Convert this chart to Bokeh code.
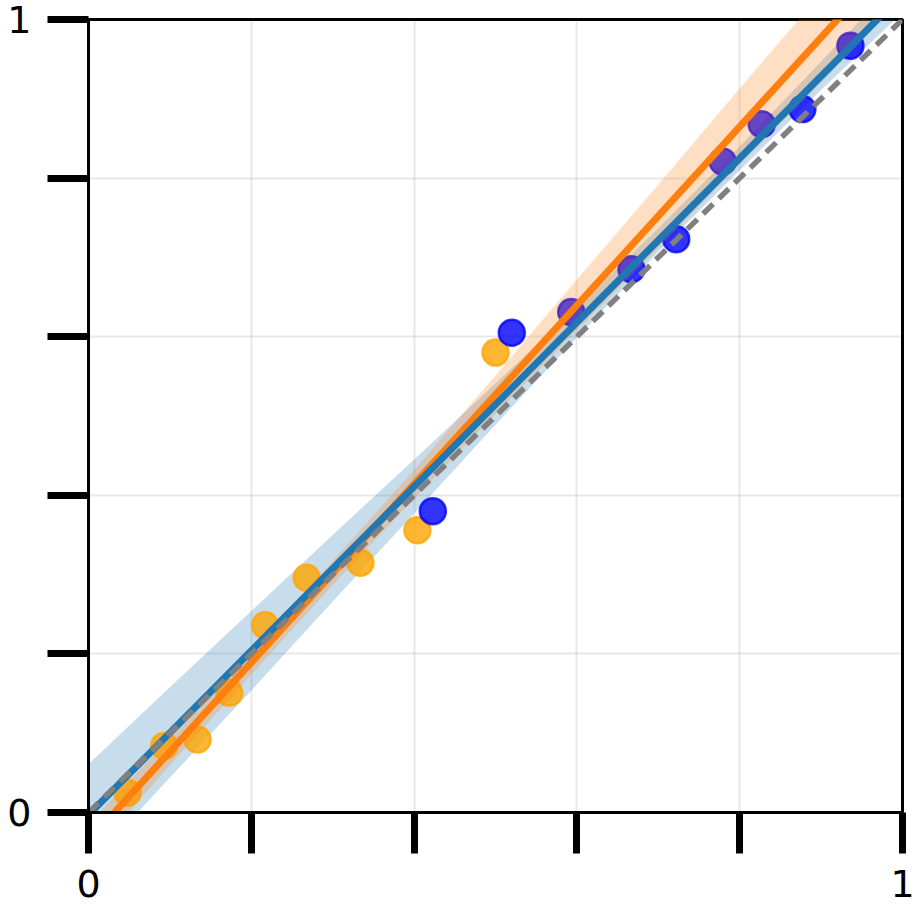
from bokeh.plotting import figure
from bokeh.models import Range1d, FixedTicker
from bokeh.embed import file_html
from bokeh.resources import INLINE

# ---- data ----
orange_x = [0.048, 0.093, 0.134, 0.173, 0.217, 0.268, 0.334, 0.404, 0.500]
orange_y = [0.025, 0.084, 0.092, 0.151, 0.236, 0.296, 0.315, 0.356, 0.580]

blue_x = [0.423, 0.520, 0.593, 0.667, 0.722, 0.779, 0.827, 0.877, 0.936]
blue_y = [0.380, 0.605, 0.631, 0.685, 0.723, 0.821, 0.868, 0.887, 0.967]

band_x = [0.0, 0.1, 0.2, 0.3, 0.4, 0.5, 0.6, 0.7, 0.8, 0.9, 1.0]
blue_lower = [-0.067, 0.044, 0.154, 0.266, 0.377, 0.489, 0.599, 0.707, 0.810, 0.911, 1.009]
blue_upper = [0.061, 0.158, 0.254, 0.350, 0.445, 0.541, 0.637, 0.737, 0.840, 0.947, 1.055]
orange_lower = [-0.058, 0.060, 0.174, 0.287, 0.396, 0.503, 0.608, 0.712, 0.817, 0.921, 1.026]
orange_upper = [-0.014, 0.094, 0.204, 0.317, 0.432, 0.551, 0.672, 0.792, 0.913, 1.033, 1.154]

fit_x = [0.0, 1.0]
blue_fit = [-0.003, 1.032]
orange_fit = [-0.036, 1.090]
diag_x = [0.0, 1.0]
diag_y = [0.0, 1.0]

tick_values = [0.0, 0.2, 0.4, 0.6, 0.8, 1.0]
tick_labels = ["0", "", "", "", "", "1"]

# ---- figure ----
p = figure(frame_width=814, frame_height=793, output_backend="svg",
           toolbar_location=None, x_range=Range1d(0, 1), y_range=Range1d(0, 1),
           min_border_left=88, min_border_right=18, min_border_top=19, min_border_bottom=95)
p.background_fill_color = "white"
p.border_fill_color = "white"
p.outline_line_color = "black"
p.outline_line_width = 3

for ax in (p.xaxis[0], p.yaxis[0]):
    ax.ticker = FixedTicker(ticks=tick_values)
    ax.major_label_overrides = {v: l for v, l in zip(tick_values, tick_labels)}
    ax.major_tick_out = 41
    ax.major_tick_in = 0
    ax.major_tick_line_width = 7
    ax.major_tick_line_color = "black"
    ax.minor_tick_line_color = None
    ax.axis_line_width = 3
    ax.axis_line_color = "black"
    ax.major_label_text_font = "DejaVu Sans"
    ax.major_label_text_font_size = "38px"
    ax.major_label_text_color = "black"
    ax.major_label_standoff = 16

p.xgrid.ticker = FixedTicker(ticks=tick_values)
p.ygrid.ticker = FixedTicker(ticks=tick_values)
p.grid.grid_line_color = "black"
p.grid.grid_line_alpha = 0.09
p.grid.grid_line_width = 2

# blue confidence band (below the points)
p.varea(x=band_x, y1=blue_lower, y2=blue_upper, fill_color="#1f77b4", fill_alpha=0.25)

# points
p.scatter(orange_x, orange_y, size=26, fill_color="orange", fill_alpha=0.8,
          line_color="orange", line_alpha=0.8, line_width=2.5)
p.scatter(blue_x, blue_y, size=26, fill_color="blue", fill_alpha=0.8,
          line_color="blue", line_alpha=0.8, line_width=2.5)

# orange confidence band (over the points)
p.varea(x=band_x, y1=orange_lower, y2=orange_upper, fill_color="#ff7f0e", fill_alpha=0.25)

# fitted lines
p.line(fit_x, orange_fit, line_color="#ff7f0e", line_width=7)
p.line(fit_x, blue_fit, line_color="#1f77b4", line_width=7)

# diagonal
p.line(diag_x, diag_y, line_color="gray", line_width=5.5, line_dash="14 8")

open("out.html", "w").write(file_html(p, INLINE))
